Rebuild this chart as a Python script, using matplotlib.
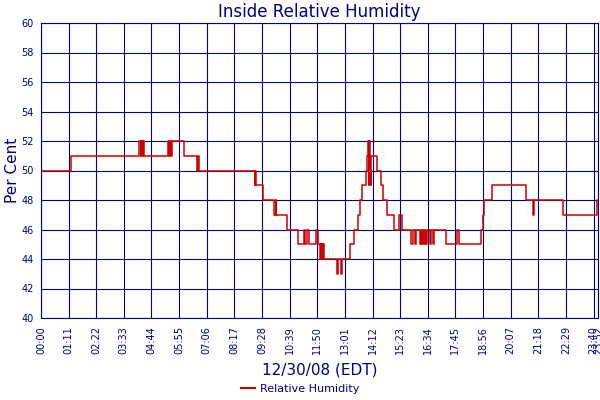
import matplotlib.pyplot as plt
from matplotlib.lines import Line2D

# step points (time of change, new reading)
times = [
    "00:00", "01:17", "04:13", "04:16", "04:18", "04:21", "04:23", "04:25",
    "05:27", "05:29", "05:31", "05:34", "05:36", "06:08", "06:42", "06:43",
    "06:45", "09:10", "09:11", "09:13", "09:31", "10:00", "10:03", "10:04",
    "10:31", "11:00", "11:16", "11:19", "11:24", "11:28", "11:48", "11:52",
    "11:57", "11:59", "12:00", "12:02", "12:04", "12:05", "12:07", "12:40",
    "12:43", "12:50", "12:54", "13:14", "13:25", "13:34", "13:40", "13:46",
    "13:55", "13:59", "14:01", "14:03", "14:04", "14:05", "14:07", "14:09",
    "14:23", "14:34", "14:40", "14:50", "15:08", "15:21", "15:27", "15:51",
    "15:56", "16:00", "16:04", "16:14", "16:16", "16:19", "16:22", "16:24",
    "16:28", "16:29", "16:32", "16:40", "16:42", "16:47", "16:50", "17:22",
    "17:48", "17:53", "18:51", "18:55", "18:58", "19:19", "20:46", "21:04",
    "21:06", "22:21", "23:48", "23:52",
]
rh = [
    50, 51, 52, 51, 52, 51, 52, 51,
    52, 51, 52, 51, 52, 51, 50, 51,
    50, 49, 50, 49, 48, 47, 48, 47,
    46, 45, 46, 45, 46, 45, 46, 45,
    44, 45, 44, 45, 44, 45, 44, 43,
    44, 43, 44, 45, 46, 47, 48, 49,
    50, 51, 52, 49, 52, 50, 49, 51,
    50, 49, 48, 47, 46, 47, 46, 45,
    46, 45, 46, 45, 46, 45, 46, 45,
    46, 45, 46, 45, 46, 45, 46, 45,
    46, 45, 46, 47, 48, 49, 48, 47,
    48, 47, 48, 48,
]
tick_labels = ["00:00", "01:11", "02:22", "03:33", "04:44", "05:55", "07:06",
               "08:17", "09:28", "10:39", "11:50", "13:01", "14:12", "15:23",
               "16:34", "17:45", "18:56", "20:07", "21:18", "22:29", "23:40",
               "23:52"]


def to_min(s):
    h, m = s.split(":")
    return int(h) * 60 + int(m)


x = [to_min(t) for t in times]
ticks = [to_min(t) for t in tick_labels]

navy = "#000080"
plt.rcParams.update({
    "font.family": ["DejaVu Sans"],
    "text.color": navy,
})

fig = plt.figure(figsize=(6, 4), dpi=100)
ax = fig.add_axes([0.0683, 0.205, 0.9287, 0.7375])

ax.plot(x, rh, drawstyle="steps-post", color="#cc0000", lw=1.1)

ax.set_xlim(0, ticks[-1])
ax.set_ylim(40, 60)
ax.set_yticks(range(40, 61, 2))
ax.set_xticks(ticks)
ax.set_xticklabels(tick_labels, rotation=90)
ax.tick_params(length=0, labelsize=7, colors=navy, pad=5)
ax.tick_params(axis="x", pad=6)

ax.set_axisbelow(True)
ax.grid(True, color=navy, lw=0.8)
for sp in ax.spines.values():
    sp.set_color(navy)
    sp.set_linewidth(0.8)

ax.set_title("Inside Relative Humidity", fontsize=12, color=navy, pad=4)
ax.set_ylabel("Per Cent", fontsize=11, color=navy, labelpad=1)
ax.set_xlabel("12/30/08 (EDT)", fontsize=11, color=navy, labelpad=6)

handle = Line2D([], [], color="#cc0000", lw=1.5)
fig.legend([handle], ["Relative Humidity"], loc="lower center",
           bbox_to_anchor=(0.5, -0.01), frameon=False, fontsize=8,
           handlelength=1.3, handletextpad=0.4, labelcolor=navy)

fig.savefig("out.png", dpi=100, facecolor="white")
